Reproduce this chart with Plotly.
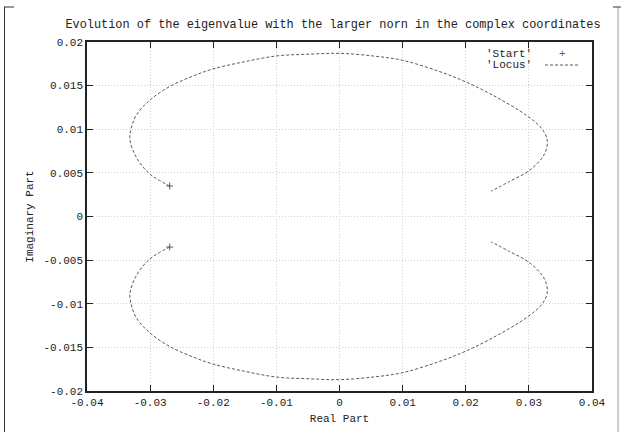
import plotly.graph_objects as go

# locus of the eigenvalue (upper branch, from start point to end)
re_upper = [-0.0269, -0.0301, -0.0322, -0.0332, -0.0330, -0.0322, -0.0301, -0.0269, -0.0232,
            -0.0201, -0.0153, -0.0100, -0.0048, 0.0000, 0.0053, 0.0100, 0.0159, 0.0201,
            0.0248, 0.0296, 0.0320, 0.0329, 0.0325, 0.0301, 0.0269, 0.0240]
im_upper = [0.0035, 0.0049, 0.0068, 0.0088, 0.0101, 0.0116, 0.0133, 0.0149, 0.0161,
            0.0169, 0.0177, 0.0184, 0.0186, 0.0187, 0.0184, 0.0179, 0.0166, 0.0154,
            0.0137, 0.0116, 0.0101, 0.0088, 0.0072, 0.0053, 0.0040, 0.0029]

# lower branch (conjugate)
re_lower = [-0.0269, -0.0301, -0.0322, -0.0332, -0.0330, -0.0322, -0.0301, -0.0269, -0.0232,
            -0.0201, -0.0153, -0.0100, -0.0048, 0.0000, 0.0053, 0.0100, 0.0159, 0.0201,
            0.0248, 0.0296, 0.0320, 0.0329, 0.0325, 0.0301, 0.0269, 0.0240]
im_lower = [-0.0035, -0.0049, -0.0068, -0.0088, -0.0101, -0.0116, -0.0133, -0.0149, -0.0161,
            -0.0169, -0.0177, -0.0184, -0.0186, -0.0187, -0.0184, -0.0179, -0.0166, -0.0154,
            -0.0137, -0.0116, -0.0101, -0.0088, -0.0072, -0.0053, -0.0040, -0.0029]

# start points
re_start = [-0.0269, -0.0269]
im_start = [0.0035, -0.0035]

# tick labels
x_ticks = [-0.04, -0.03, -0.02, -0.01, 0, 0.01, 0.02, 0.03, 0.04]
x_labels = ["-0.04", "-0.03", "-0.02", "-0.01", "0", "0.01", "0.02", "0.03", "0.04"]
y_ticks = [-0.02, -0.015, -0.01, -0.005, 0, 0.005, 0.01, 0.015, 0.02]
y_labels = ["-0.02", "-0.015", "-0.01", "-0.005", "0", "0.005", "0.01", "0.015", "0.02"]

FONT = "Liberation Mono, Courier New, monospace"
C_LINE = "#5a5a5a"

fig = go.Figure()
for xs, ys in [(re_upper, im_upper), (re_lower, im_lower)]:
    fig.add_trace(go.Scatter(
        x=xs, y=ys, mode="lines",
        line=dict(color=C_LINE, width=1, dash="3px,2px", shape="spline", smoothing=1.0),
        showlegend=False, hoverinfo="skip"
    ))
fig.add_trace(go.Scatter(
    x=re_start, y=im_start, mode="markers",
    marker=dict(symbol="cross-thin", size=5, line=dict(color=C_LINE, width=1)),
    showlegend=False
))

# frame pieces around the picture (paper coords of the plot area)
W, H = 621, 432
L, R, T, B = 87, 29, 42, 41
pw, ph = W - L - R, H - T - B
def px(X): return (X - L) / pw
def py(Y): return (H - B - Y) / ph

shapes = [
    dict(type="line", xref="paper", yref="paper", x0=px(4.5), x1=px(4.5), y0=py(7), y1=py(432),
         line=dict(color="#333333", width=1)),
    dict(type="line", xref="paper", yref="paper", x0=px(4), x1=px(14), y0=py(7), y1=py(7),
         line=dict(color="#333333", width=1)),
    dict(type="line", xref="paper", yref="paper", x0=px(618), x1=px(618), y0=py(7), y1=py(432),
         line=dict(color="#999999", width=1)),
    dict(type="line", xref="paper", yref="paper", x0=px(613), x1=px(621), y0=py(7), y1=py(7),
         line=dict(color="#333333", width=1)),
    # legend sample for Locus
    dict(type="line", xref="paper", yref="paper", x0=px(545), x1=px(580), y0=py(65), y1=py(65),
         line=dict(color=C_LINE, width=1, dash="3px,2px")),
]

annotations = [
    dict(text="'Start'", xref="paper", yref="paper", x=px(534), y=py(54), xanchor="right",
         yanchor="middle", showarrow=False, font=dict(family=FONT, size=11, color="#222")),
    dict(text="'Locus'", xref="paper", yref="paper", x=px(534), y=py(65), xanchor="right",
         yanchor="middle", showarrow=False, font=dict(family=FONT, size=11, color="#222")),
    dict(text="+", xref="paper", yref="paper", x=px(562), y=py(54), xanchor="center",
         yanchor="middle", showarrow=False, font=dict(family=FONT, size=11, color=C_LINE)),
]

fig.update_layout(
    width=W, height=H,
    paper_bgcolor="white", plot_bgcolor="white",
    margin=dict(l=L, r=R, t=T, b=B, autoexpand=False),
    font=dict(family=FONT, size=11, color="#222222"),
    title=dict(text="Evolution of the eigenvalue with the larger norn in the complex coordinates",
               x=px(333), xanchor="center", xref="paper", y=1 - 24 / H, yanchor="middle",
               font=dict(family=FONT, size=11.9, color="#222222")),
    shapes=shapes, annotations=annotations, showlegend=False,
)

axis_common = dict(
    showline=True, linecolor="#222222", linewidth=1.5, mirror="ticks",
    ticks="inside", ticklen=6, tickcolor="#222222", tickwidth=1,
    showgrid=True, gridcolor="#cfcfcf", griddash="1px,2px", gridwidth=1,
    zeroline=False, tickfont=dict(family=FONT, size=11, color="#222222"),
    tickmode="array",
)
fig.update_xaxes(range=[-0.04, 0.04], tickvals=x_ticks, ticktext=x_labels,
                 title=dict(text="Real Part", standoff=6, font=dict(family=FONT, size=11)),
                 **axis_common)
fig.update_yaxes(range=[-0.02, 0.02], tickvals=y_ticks, ticktext=y_labels,
                 title=dict(text="Imaginary Part", standoff=8, font=dict(family=FONT, size=11)),
                 **axis_common)

# drop the page's default body margin so the figure sits at the window's corner
fig.write_html("out.html", config={"displayModeBar": False},
               post_script="document.body.style.margin='0';")
